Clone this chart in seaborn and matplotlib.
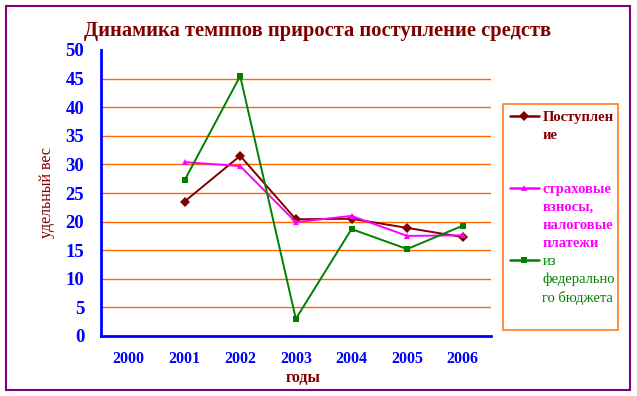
import pandas as pd
import numpy as np
import matplotlib
matplotlib.use('Agg')
import matplotlib.pyplot as plt
import matplotlib.patches as mpatches
from matplotlib.lines import Line2D
from matplotlib.ticker import FixedLocator, NullFormatter, FixedFormatter
import seaborn as sns

years = [2001, 2002, 2003, 2004, 2005, 2006]
axis_years = [2000, 2001, 2002, 2003, 2004, 2005, 2006]
postuplenie = [23.5, 31.5, 20.4, 20.5, 18.9, 17.3]
strakhovye = [30.4, 29.7, 19.9, 21.0, 17.5, 17.6]
federal = [27.2, 45.45, 3.0, 18.7, 15.2, 19.3]

series_names = ['Поступление', 'страховые взносы, налоговые платежи', 'из федерального бюджета']
legend_lines = [['Поступлен', 'ие'],
                ['страховые', 'взносы,', 'налоговые', 'платежи'],
                ['из', 'федерально', 'го бюджета']]

title_text = 'Динамика темппов прироста поступление средств'
ylabel_text = 'удельный вес'
xlabel_text = 'годы'

BROWN = '#800000'
MAGENTA = '#FF00FF'
GREEN = '#008000'
BLUE = '#0000FF'
ORANGE = '#FF6600'
PURPLE = '#800080'

sns.set_style('white')
plt.rcParams['font.family'] = ['Liberation Serif', 'DejaVu Serif']

df = pd.DataFrame({
    'year': years * 3,
    'value': postuplenie + strakhovye + federal,
    'series': [series_names[0]] * 6 + [series_names[1]] * 6 + [series_names[2]] * 6,
})

fig = plt.figure(figsize=(6.37, 3.96), dpi=100)
ax = fig.add_axes([101 / 637, 1 - 336 / 396, 389.7 / 637, 286 / 396])

palette = dict(zip(series_names, [BROWN, MAGENTA, GREEN]))
markers = dict(zip(series_names, ['D', '^', 's']))
sns.lineplot(data=df, x='year', y='value', hue='series', style='series',
             palette=palette, markers=markers, dashes=False, ax=ax,
             linewidth=1.4, markersize=5, markeredgewidth=0, legend=False)

ax.set_xlim(1999.5, 2006.5)
ax.set_ylim(0, 50)

# y axis
ax.set_yticks(np.arange(0, 51, 5))
ax.tick_params(axis='y', colors=BLUE, direction='out', length=6, width=1.5,
               pad=6, labelsize=13.5)
for lbl in ax.get_yticklabels():
    lbl.set_fontweight('bold')

# x axis: ticks at category boundaries, labels at centres
ax.xaxis.set_major_locator(FixedLocator(np.arange(1999.5, 2007, 1)))
ax.xaxis.set_major_formatter(NullFormatter())
ax.xaxis.set_minor_locator(FixedLocator(axis_years))
ax.xaxis.set_minor_formatter(FixedFormatter([str(y) for y in axis_years]))
ax.tick_params(axis='x', which='major', colors=BLUE, direction='out', length=5, width=1.5)
ax.tick_params(axis='x', which='minor', colors=BLUE, length=0, pad=11, labelsize=11.5)
for lbl in ax.get_xticklabels(minor=True):
    lbl.set_fontweight('bold')

ax.set_xlabel('')
ax.set_ylabel('')

# grid
ax.yaxis.grid(True, color=ORANGE, linewidth=1.0)
ax.set_axisbelow(True)
gl = ax.get_ygridlines()
gl[0].set_visible(False)
gl[-1].set_visible(False)

for side in ['top', 'right']:
    ax.spines[side].set_visible(False)
for side in ['left', 'bottom']:
    ax.spines[side].set_color(BLUE)
    ax.spines[side].set_linewidth(2)

# texts
fig.text(318 / 637, 1 - 31 / 396, title_text, ha='center', va='center',
         fontsize=14.8, fontweight='bold', color=BROWN)
fig.text(47 / 637, 1 - 193 / 396, ylabel_text, ha='center', va='center',
         rotation=90, fontsize=11.5, color=BROWN)
fig.text(303 / 637, 1 - 378 / 396, xlabel_text, ha='center', va='center',
         fontsize=11.5, fontweight='bold', color=BROWN)

# legend, one row per text line
colors = [BROWN, MAGENTA, GREEN]
weights = ['bold', 'bold', 'normal']
mk = ['D', '^', 's']
handles, labels, txt_colors, txt_weights = [], [], [], []
blank = Line2D([], [], linestyle='none')
for i, lines in enumerate(legend_lines):
    for j, line in enumerate(lines):
        if j == 0:
            handles.append(Line2D([], [], color=colors[i], marker=mk[i],
                                  markersize=5, markeredgewidth=0, linewidth=1.8))
        else:
            handles.append(blank)
        labels.append(line)
        txt_colors.append(colors[i])
        txt_weights.append(weights[i])
    if i == 0:
        for _ in range(2):
            handles.append(blank)
            labels.append('И')
            txt_colors.append('none')
            txt_weights.append(weights[i])
handles.append(blank)
labels.append('И')
txt_colors.append('none')
txt_weights.append('normal')

leg = fig.legend(handles, labels, loc='upper left',
                 bbox_to_anchor=(503 / 637, 1 - 104 / 396 - 0.01, 115 / 637, 0.01),
                 mode='expand', fontsize=10.5, frameon=True, fancybox=False,
                 handlelength=2.0, handletextpad=0.25, labelspacing=0.33,
                 borderpad=0.45, borderaxespad=0)
leg.get_frame().set_edgecolor(ORANGE)
leg.get_frame().set_linewidth(1.3)
for t, c, w in zip(leg.get_texts(), txt_colors, txt_weights):
    t.set_color(c)
    t.set_fontweight(w)

# outer border
fig.patches.append(mpatches.Rectangle((6 / 637, 6 / 396), 624 / 637, 384 / 396,
                                      transform=fig.transFigure, fill=False,
                                      edgecolor=PURPLE, linewidth=1.5))

fig.savefig('out.png', dpi=100)
